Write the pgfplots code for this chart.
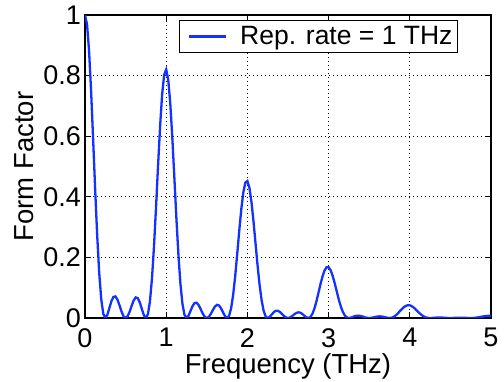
\documentclass[border=0pt]{standalone}
\usepackage{fontspec}
\setmainfont{Liberation Sans}
\usepackage{pgfplots}
\pgfplotsset{compat=1.18}
\definecolor{lineblue}{RGB}{20,50,255}
\pgfplotstableread{
f F
0 1.0000
0.025 0.9694
0.05 0.8819
0.075 0.7498
0.1 0.5908
0.125 0.4255
0.15 0.2731
0.175 0.1489
0.2 0.0620
0.225 0.0140
0.25 0
0.275 0.0102
0.3 0.0324
0.325 0.0551
0.35 0.0695
0.375 0.0712
0.4 0.0605
0.425 0.0417
0.45 0.0213
0.475 0.0057
0.5 0
0.525 0.0057
0.55 0.0208
0.575 0.0405
0.6 0.0582
0.625 0.0678
0.65 0.0655
0.675 0.0514
0.7 0.0299
0.725 0.0093
0.75 0
0.775 0.0126
0.8 0.0550
0.825 0.1309
0.85 0.2376
0.875 0.3666
0.9 0.5041
0.925 0.6334
0.95 0.7376
0.975 0.8027
1.0 0.8200
1.025 0.7870
1.05 0.7090
1.075 0.5968
1.1 0.4656
1.125 0.3320
1.15 0.2110
1.175 0.1139
1.2 0.0470
1.225 0.0105
1.25 0
1.275 0.0075
1.3 0.0236
1.325 0.0397
1.35 0.0496
1.375 0.0503
1.4 0.0424
1.425 0.0289
1.45 0.0146
1.475 0.0039
1.5 0
1.525 0.0038
1.55 0.0137
1.575 0.0264
1.6 0.0376
1.625 0.0434
1.65 0.0415
1.675 0.0322
1.7 0.0186
1.725 0.0057
1.75 0
1.775 0.0076
1.8 0.0329
1.825 0.0774
1.85 0.1390
1.875 0.2124
1.9 0.2892
1.925 0.3597
1.95 0.4148
1.975 0.4470
2.0 0.4520
2.025 0.4296
2.05 0.3831
2.075 0.3193
2.1 0.2467
2.125 0.1742
2.15 0.1096
2.175 0.0586
2.2 0.0239
2.225 0.0053
2.25 0
2.275 0.0037
2.3 0.0115
2.325 0.0192
2.35 0.0238
2.375 0.0239
2.4 0.0199
2.425 0.0135
2.45 0.0067
2.475 0.0018
2.5 0
2.525 0.0017
2.55 0.0061
2.575 0.0116
2.6 0.0163
2.625 0.0186
2.65 0.0177
2.675 0.0136
2.7 0.0078
2.725 0.0024
2.75 0
2.775 0.0031
2.8 0.0132
2.825 0.0307
2.85 0.0547
2.875 0.0827
2.9 0.1115
2.925 0.1374
2.95 0.1568
2.975 0.1673
3.0 0.1676
3.025 0.1577
3.05 0.1392
3.075 0.1149
3.1 0.0879
3.125 0.0614
3.15 0.0383
3.175 0.0203
3.2 0.0082
3.225 0.0018
3.25 0
3.275 0.0012
3.3 0.0038
3.325 0.0063
3.35 0.0077
3.375 0.0076
3.4 0.0063
3.425 0.0042
3.45 0.0021
3.475 0.0005
3.5 0
3.525 0.0005
3.55 0.0018
3.575 0.0034
3.6 0.0048
3.625 0.0054
3.65 0.0051
3.675 0.0039
3.7 0.0022
3.725 0.0007
3.75 0
3.775 0.0008
3.8 0.0036
3.825 0.0082
3.85 0.0145
3.875 0.0217
3.9 0.0289
3.925 0.0353
3.95 0.0399
3.975 0.0421
4.0 0.0418
4.025 0.0389
4.05 0.0340
4.075 0.0278
4.1 0.0210
4.125 0.0146
4.15 0.0090
4.175 0.0047
4.2 0.0019
4.225 0.0004
4.25 0
4.275 0.0003
4.3 0.0008
4.325 0.0014
4.35 0.0017
4.375 0.0016
4.4 0.0013
4.425 0.0009
4.45 0.0004
4.475 0.0001
4.5 0
4.525 0.0001
4.55 0.0004
4.575 0.0007
4.6 0.0009
4.625 0.0010
4.65 0.0010
4.675 0.0007
4.7 0.0004
4.725 0.0001
4.75 0
4.775 0.0002
4.8 0.0006
4.825 0.0015
4.85 0.0026
4.875 0.0038
4.9 0.0050
4.925 0.0061
4.95 0.0068
4.975 0.0071
5.0 0.0070
}\formfactor
\begin{document}
\begin{tikzpicture}
\useasboundingbox (0,0) rectangle (504pt,382pt);
\begin{axis}[
  at={(85pt,64pt)}, anchor=south west,
  scale only axis, width=406pt, height=303pt,
  xmin=0, xmax=5, ymin=0, ymax=1,
  xtick={0,1,2,3,4,5},
  xticklabels={0,1,2,3,4,5},
  ytick={0,0.2,0.4,0.6,0.8,1},
  yticklabels={0,0.2,0.4,0.6,0.8,1},
  tick align=inside,
  major tick length=6pt,
  tick style={black, line width=1pt},
  axis line style={black, line width=2.5pt},
  grid=major,
  major grid style={black, line width=0.7pt, dash pattern=on 0.7pt off 3.3pt},
  /pgf/number format/assume math mode=true,
  xticklabel style={font=\fontsize{27}{32}\selectfont, anchor=north, inner sep=0pt, yshift=-10pt},
  yticklabel style={font=\fontsize{27}{32}\selectfont, anchor=east, inner sep=0pt, xshift=-4pt},
  xlabel={Frequency (THz)},
  ylabel={Form Factor},
  xlabel style={font=\fontsize{27.5}{32}\selectfont, at={(axis description cs:0.5,-0.1825)}, anchor=base, inner sep=0pt},
  ylabel style={font=\fontsize{27.5}{32}\selectfont, at={(axis description cs:-0.128,0.5)}, anchor=base, inner sep=0pt},
  legend style={at={(axis description cs:0.9187,0.9835)}, anchor=north east, draw=black, line width=1pt,
    font=\fontsize{26.5}{30}\selectfont, inner xsep=5pt, inner ysep=6pt, fill=white,
    nodes={inner sep=0pt}, column sep=13pt},
  legend cell align=left,
  legend image code/.code={\path (-3pt,0pt); \draw[#1] (0pt,0pt) -- (37pt,0pt);},
]
\addplot[lineblue, line width=2.3pt] table[x=f, y=F] {\formfactor};
\addlegendentry{Rep. rate = 1 THz}
\end{axis}
\end{tikzpicture}
\end{document}
